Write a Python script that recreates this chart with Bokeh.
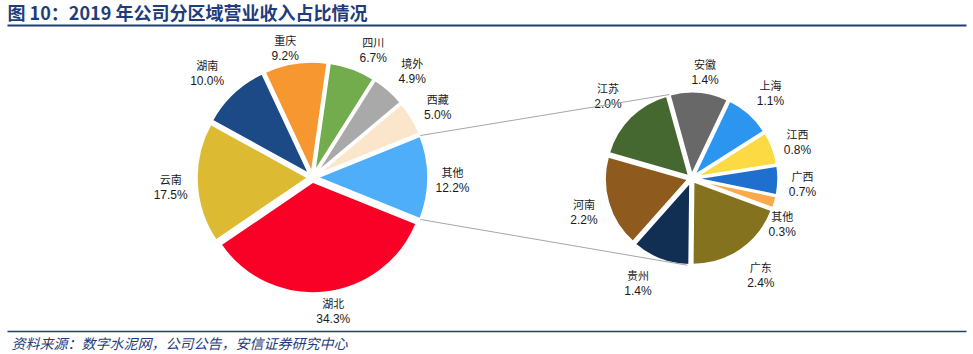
import math
from bokeh.plotting import figure
from bokeh.models import Range1d, ColumnDataSource
from bokeh.core.properties import value
from bokeh.embed import file_html
from bokeh.resources import INLINE

W, H = 973, 354

title_text = "图 10：2019 年公司分区域营业收入占比情况"
source_text = "资料来源：数字水泥网，公司公告，安信证券研究中心"

main_names = ["湖北", "云南", "湖南", "重庆", "四川", "境外", "西藏", "其他"]
main_values = [34.3, 17.5, 10.0, 9.2, 6.7, 4.9, 5.0, 12.2]
main_colors = ["#F90026", "#DCBB33", "#1B4A86", "#F7972F", "#72AC4D", "#A9A9A9", "#FCE6CB", "#4FAEF9"]

sub_names = ["安徽", "上海", "江西", "广西", "其他", "广东", "贵州", "河南", "江苏"]
sub_values = [1.4, 1.1, 0.8, 0.7, 0.3, 2.4, 1.4, 2.2, 2.0]
sub_colors = ["#686868", "#2C95F0", "#FCDA43", "#1F6FCF", "#F9AA4A", "#84721F", "#112F52", "#8F5A1D", "#456831"]

# label placement nudges (pixels, x right / y down), style only
main_nudge = [(6, -2), (-4, 3), (-11, -5), (-7, 5), (13, 0), (9, -4), (7, 0), (2, 2)]
sub_nudge = [(4, 3), (6, -3), (3, 2), (1, 3), (-15, 15), (7, 6), (-14, 2), (-2, 3), (-6, -4)]

NAVY = "#1F3D7A"
TXT = "#1A1A1A"
CJK = "Noto Sans CJK SC"
LAT = "Liberation Sans"

p = figure(width=W, height=H, output_backend="svg", toolbar_location=None,
           x_range=Range1d(0, W), y_range=Range1d(0, H),
           x_axis_location=None, y_axis_location=None, min_border=0)
p.grid.visible = False
p.outline_line_color = None
p.background_fill_color = "white"
p.border_fill_color = "white"


def Y(py):
    return H - py


def draw_pie(cx, cy, R, explode, names, values, colors, start_deg, gap, hw, hh, nudge):
    total = sum(values)
    xs, ys, sa, ea, lx, ly, bounds = [], [], [], [], [], [], []
    t = start_deg
    for v, (ndx, ndy) in zip(values, nudge):
        span = v / total * 360.0
        t0, t1 = t, t + span
        mid = math.radians((t0 + t1) / 2)
        ux, uy = math.sin(mid), math.cos(mid)
        ox, oy = cx + explode * ux, Y(cy) + explode * uy
        xs.append(ox); ys.append(oy)
        sa.append(math.radians(90 - t0)); ea.append(math.radians(90 - t1))
        d = R + gap
        lx.append(ox + d * ux + ux * hw + ndx)
        ly.append(oy + d * uy + uy * hh - ndy)
        bounds.append((t0, t1, ox, oy))
        t = t1
    src = ColumnDataSource(dict(x=xs, y=ys, sa=sa, ea=ea, color=colors,
                                lx=lx, ly1=[v + 8 for v in ly], ly2=[v - 8 for v in ly],
                                name=names, pct=["%.1f%%" % v for v in values]))
    p.wedge(x="x", y="y", radius=R, start_angle="sa", end_angle="ea", direction="clock",
            fill_color="color", line_color="white", line_width=2.5, line_join="round", source=src)
    p.text(x="lx", y="ly1", text="name", text_align="center", text_baseline="middle",
           text_font=value(CJK), text_font_size="11px", text_color=TXT, source=src)
    p.text(x="lx", y="ly2", text="pct", text_align="center", text_baseline="middle",
           text_font=value(LAT), text_font_size="12px", text_color=TXT, source=src)
    return bounds


def point(ox, oy, R, deg):
    a = math.radians(deg)
    return ox + R * math.sin(a), oy + R * math.cos(a)


# main pie: aggregate slice ("其他", last) centred at 3 o'clock
main_total = sum(main_values)
main_start = 90 + main_values[-1] / main_total * 360.0 / 2
mb = draw_pie(312, 177, 112, 4, main_names, main_values, main_colors, main_start, 5, 17, 15, main_nudge)
sb = draw_pie(691, 178, 84, 3, sub_names, sub_values, sub_colors, -15.5, 8, 15, 15, sub_nudge)

# connector lines
t0, t1, ox, oy = mb[-1]
a1 = point(ox, oy, 112, t0)
a2 = point(ox, oy, 112, t1)
s0 = sb[0]
b1 = point(s0[2], s0[3], 84, s0[0])
s6 = sb[6]
b2 = point(s6[2], s6[3], 84, s6[0] + 1.5)
p.segment(x0=[a1[0], a2[0]], y0=[a1[1], a2[1]], x1=[b1[0], b2[0]], y1=[b1[1], b2[1]],
          line_color="#A6A6A6", line_width=1)

# title and source
p.text(x=[7], y=[Y(11)], text=[title_text], text_font=value(CJK), text_font_size="18px",
       text_font_style="bold", text_color=NAVY, text_baseline="middle")
p.segment(x0=[7], y0=[Y(25)], x1=[966], y1=[Y(25)], line_color=NAVY, line_width=2)
p.segment(x0=[7], y0=[Y(331)], x1=[966], y1=[Y(331)], line_color=NAVY, line_width=1.5)
p.text(x=[11], y=[Y(342)], text=[source_text], text_font=value(CJK), text_font_size="14px",
       text_font_style="italic", text_color=NAVY, text_baseline="middle")

open("out.html", "w").write(file_html(p, INLINE))
